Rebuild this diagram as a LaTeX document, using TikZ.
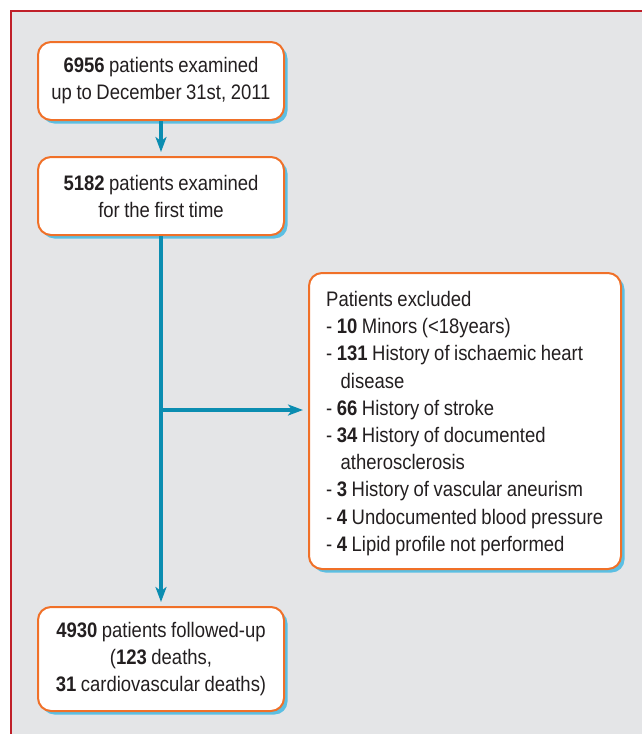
\documentclass[tikz,border=0pt]{standalone}
\usepackage{fontspec}
\setmainfont{Liberation Sans}[FakeStretch=0.88,WordSpace=0.88]
\usetikzlibrary{arrows.meta,shadows,calc}
\definecolor{framered}{HTML}{C0202A}
\definecolor{bggray}{HTML}{E4E5E7}
\definecolor{boxorange}{HTML}{F07028}
\definecolor{shadowblue}{HTML}{5BBFE3}
\definecolor{arrowteal}{HTML}{0B8DB1}
\definecolor{txt}{HTML}{231F20}
\begin{document}
\begin{tikzpicture}[x=1pt,y=-1pt,
  box/.style={draw=boxorange, line width=2pt, fill=white, rounded corners=13pt,
    drop shadow={shadow xshift=3.5pt, shadow yshift=-3.5pt, fill=shadowblue, opacity=1},
    font=\fontsize{21}{27}\selectfont, text=txt, inner sep=0pt, align=center},
  boxtext/.style={font=\fontsize{21}{27.2}\selectfont, text=txt, inner sep=0pt, align=left},
  arr/.style={draw=arrowteal, line width=3.2pt, -{Stealth[length=15pt,width=11pt,inset=4pt]}}]
\useasboundingbox (0,0) rectangle (642,734);
\fill[white] (0,0) rectangle (642,734);
\fill[bggray] (11,11) rectangle (642,734);
\draw[framered, line width=2.5pt] (11,734) -- (11,11) -- (642,11);

\node[box, minimum width=246pt, minimum height=78pt] (b1) at (161,81)
  {\textbf{6956} patients examined\\up to December 31st, 2011};
\node[box, minimum width=246pt, minimum height=78pt] (b2) at (161,196)
  {\textbf{5182} patients examined\\for the first time};
\node[box, minimum width=312pt, minimum height=296pt] (b3) at (465,421) {};
\node[boxtext, anchor=north west] (b3t) at (326,291)
  {Patients excluded\\
   - \textbf{10} Minors (<18years)\\
   - \textbf{131} History of ischaemic heart\\
   \hspace*{14.5pt}disease\\
   - \textbf{66} History of stroke\\
   - \textbf{34} History of documented\\
   \hspace*{14.5pt}atherosclerosis\\
   - \textbf{3} History of vascular aneurism\\
   - \textbf{4} Undocumented blood pressure\\
   - \textbf{4} Lipid profile not performed};
\node[box, minimum width=246pt, minimum height=104pt] (b4) at (161,659)
  {\textbf{4930} patients followed-up\\(\textbf{123} deaths,\\\textbf{31} cardiovascular deaths)};

\draw[arr, shorten >=4pt] (b1.south) -- (b2.north);
\draw[arr, shorten >=4pt] (b2.south) -- (b4.north);
\coordinate (j) at (161,410);
\draw[arr, shorten >=5pt] (j) -- (j -| b3.west);
\end{tikzpicture}
\end{document}
